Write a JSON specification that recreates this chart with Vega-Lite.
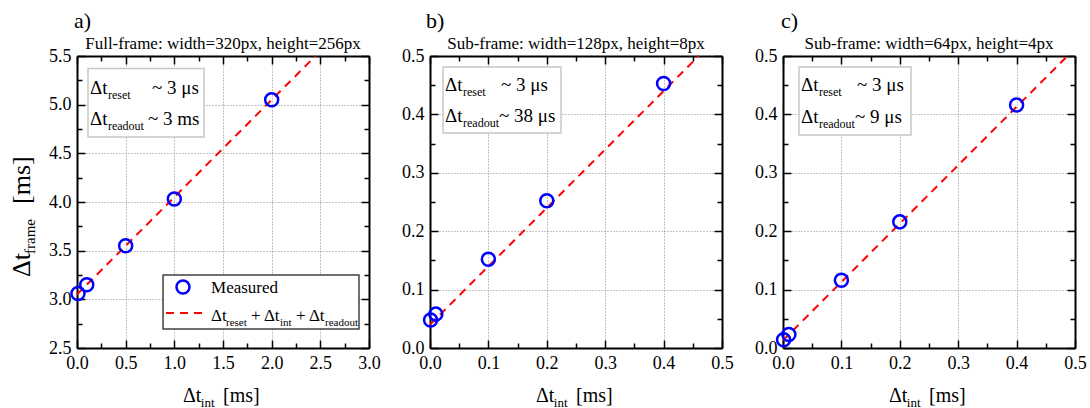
{
 "$schema": "https://vega.github.io/schema/vega-lite/v6.json",
 "autosize": {"type": "none"},
 "padding": {"left": 77, "top": 56, "right": 1013, "bottom": 352},
 "background": "#ffffff",
 "bounds": "flush",
 "spacing": 61,
 "config": {
  "view": {"stroke": null},
  "font": "Liberation Serif",
  "axis": {"domainColor": "#000000", "domainWidth": 2, "tickColor": "#000000", "tickWidth": 1.5, "labelFont": "Liberation Serif", "labelFontSize": 18, "labelColor": "#000000", "labelFlush": false, "labelOverlap": false, "gridColor": "#888888", "gridDash": [1, 2], "gridWidth": 1, "title": null}
 },
 "datasets": {
  "measured": [
   {"panel": "a", "t_int": 0.01, "t_frame": 3.06}, {"panel": "a", "t_int": 0.1, "t_frame": 3.15}, {"panel": "a", "t_int": 0.5, "t_frame": 3.55}, {"panel": "a", "t_int": 1.0, "t_frame": 4.03}, {"panel": "a", "t_int": 2.0, "t_frame": 5.05},
   {"panel": "b", "t_int": 0.001, "t_frame": 0.048}, {"panel": "b", "t_int": 0.01, "t_frame": 0.058}, {"panel": "b", "t_int": 0.1, "t_frame": 0.152}, {"panel": "b", "t_int": 0.2, "t_frame": 0.252}, {"panel": "b", "t_int": 0.4, "t_frame": 0.453},
   {"panel": "c", "t_int": 0.001, "t_frame": 0.014}, {"panel": "c", "t_int": 0.01, "t_frame": 0.023}, {"panel": "c", "t_int": 0.1, "t_frame": 0.116}, {"panel": "c", "t_int": 0.2, "t_frame": 0.216}, {"panel": "c", "t_int": 0.4, "t_frame": 0.416}
  ],
  "model": [
   {"panel": "a", "t_int": 0, "t_frame": 3.05}, {"panel": "a", "t_int": 2.45, "t_frame": 5.5},
   {"panel": "b", "t_int": 0, "t_frame": 0.04}, {"panel": "b", "t_int": 0.46, "t_frame": 0.5},
   {"panel": "c", "t_int": 0, "t_frame": 0.013}, {"panel": "c", "t_int": 0.487, "t_frame": 0.5}
  ],
  "boxes": [
   {"panel": "a", "kind": "info", "left": 0.113, "right": 1.305, "top": 5.372, "bottom": 4.668},
   {"panel": "a", "kind": "legend", "left": 0.884, "right": 2.897, "top": 3.25, "bottom": 2.695},
   {"panel": "b", "kind": "info", "left": 0.0223, "right": 0.2243, "top": 0.4812, "bottom": 0.3682},
   {"panel": "c", "kind": "info", "left": 0.0274, "right": 0.2192, "top": 0.4812, "bottom": 0.3647}
  ],
  "legendkey": [
   {"panel": "a", "item": "line", "x": 0.914, "y": 2.86},
   {"panel": "a", "item": "line", "x": 1.346, "y": 2.86},
   {"panel": "a", "item": "marker", "x": 1.089, "y": 3.127}
  ],
  "subtitles": [
   {"panel": "a", "x": 1.5, "y": 5.572, "text": "Full-frame: width=320px, height=256px"},
   {"panel": "b", "x": 0.25, "y": 0.512, "text": "Sub-frame: width=128px, height=8px"},
   {"panel": "c", "x": 0.25, "y": 0.512, "text": "Sub-frame: width=64px, height=4px"}
  ],
  "labels": [
   {"panel": "a", "part": "main", "role": "letter", "x": -0.031, "y": 5.788, "text": "a)"},
   {"panel": "a", "part": "main", "role": "box", "x": 0.134, "y": 5.11, "text": "Δt"},
   {"panel": "a", "part": "main", "role": "box", "x": 0.771, "y": 5.11, "text": "~ 3 μs"},
   {"panel": "a", "part": "main", "role": "box", "x": 0.134, "y": 4.791, "text": "Δt"},
   {"panel": "a", "part": "main", "role": "box", "x": 0.729, "y": 4.791, "text": "~ 3 ms"},
   {"panel": "a", "part": "sub", "role": "box", "x": 0.318, "y": 5.11, "text": "reset"},
   {"panel": "a", "part": "sub", "role": "box", "x": 0.318, "y": 4.791, "text": "readout"},
   {"panel": "a", "part": "main", "role": "leg", "x": 1.377, "y": 3.065, "text": "Measured"},
   {"panel": "a", "part": "main", "role": "leg", "x": 1.377, "y": 2.777, "text": "Δt"},
   {"panel": "a", "part": "sub", "role": "leg", "x": 1.531, "y": 2.777, "text": "reset"},
   {"panel": "a", "part": "main", "role": "leg", "x": 1.788, "y": 2.777, "text": "+ Δt"},
   {"panel": "a", "part": "sub", "role": "leg", "x": 2.086, "y": 2.777, "text": "int"},
   {"panel": "a", "part": "main", "role": "leg", "x": 2.25, "y": 2.777, "text": "+ Δt"},
   {"panel": "a", "part": "sub", "role": "leg", "x": 2.548, "y": 2.777, "text": "readout"},
   {"panel": "a", "part": "main", "role": "xt", "x": 1.089, "y": 1.945, "text": "Δt"},
   {"panel": "a", "part": "sub", "role": "xt", "x": 1.272, "y": 1.945, "text": "int"},
   {"panel": "a", "part": "main", "role": "xt", "x": 1.5, "y": 1.945, "text": "[ms]"},
   {"panel": "a", "part": "main", "role": "yt", "x": -0.483, "y": 3.229, "text": "Δt"},
   {"panel": "a", "part": "sub", "role": "yt", "x": -0.483, "y": 3.466, "text": "frame"},
   {"panel": "a", "part": "main", "role": "yt", "x": -0.483, "y": 3.98, "text": "[ms]"},
   {"panel": "b", "part": "main", "role": "letter", "x": -0.0068, "y": 0.548, "text": "b)"},
   {"panel": "b", "part": "main", "role": "box", "x": 0.0257, "y": 0.4401, "text": "Δt"},
   {"panel": "b", "part": "main", "role": "box", "x": 0.1216, "y": 0.4401, "text": "~ 3 μs"},
   {"panel": "b", "part": "main", "role": "box", "x": 0.0257, "y": 0.387, "text": "Δt"},
   {"panel": "b", "part": "main", "role": "box", "x": 0.1182, "y": 0.387, "text": "~ 38 μs"},
   {"panel": "b", "part": "sub", "role": "box", "x": 0.0565, "y": 0.4401, "text": "reset"},
   {"panel": "b", "part": "sub", "role": "box", "x": 0.0565, "y": 0.387, "text": "readout"},
   {"panel": "b", "part": "main", "role": "xt", "x": 0.1815, "y": -0.0925, "text": "Δt"},
   {"panel": "b", "part": "sub", "role": "xt", "x": 0.212, "y": -0.0925, "text": "int"},
   {"panel": "b", "part": "main", "role": "xt", "x": 0.25, "y": -0.0925, "text": "[ms]"},
   {"panel": "c", "part": "main", "role": "letter", "x": -0.0034, "y": 0.548, "text": "c)"},
   {"panel": "c", "part": "main", "role": "box", "x": 0.0308, "y": 0.4401, "text": "Δt"},
   {"panel": "c", "part": "main", "role": "box", "x": 0.1267, "y": 0.4401, "text": "~ 3 μs"},
   {"panel": "c", "part": "main", "role": "box", "x": 0.0308, "y": 0.3853, "text": "Δt"},
   {"panel": "c", "part": "main", "role": "box", "x": 0.1233, "y": 0.3853, "text": "~ 9 μs"},
   {"panel": "c", "part": "sub", "role": "box", "x": 0.0616, "y": 0.4401, "text": "reset"},
   {"panel": "c", "part": "sub", "role": "box", "x": 0.0616, "y": 0.3853, "text": "readout"},
   {"panel": "c", "part": "main", "role": "xt", "x": 0.1815, "y": -0.0925, "text": "Δt"},
   {"panel": "c", "part": "sub", "role": "xt", "x": 0.212, "y": -0.0925, "text": "int"},
   {"panel": "c", "part": "main", "role": "xt", "x": 0.25, "y": -0.0925, "text": "[ms]"}
  ]
 },
 "hconcat": [
  {
   "width": 292, "height": 292,
   "resolve": {"axis": {"x": "independent", "y": "independent"}},
   "layer": [
    {"data": {"name": "model"}, "transform": [{"filter": "datum.panel === 'a'"}],
     "mark": {"type": "line", "color": "#ff0000", "strokeWidth": 2, "strokeDash": [8, 6]},
     "encoding": {
      "x": {"field": "t_int", "type": "quantitative", "scale": {"domain": [0, 3], "nice": false, "zero": false},
            "axis": {"orient": "top", "values": [0, 0.25, 0.5, 0.75, 1, 1.25, 1.5, 1.75, 2, 2.25, 2.5, 2.75, 3], "labels": false, "grid": false,
                     "tickSize": {"condition": {"test": "abs(datum.value*2-round(datum.value*2))<0.001", "value": -8}, "value": -5}}},
      "y": {"field": "t_frame", "type": "quantitative", "scale": {"domain": [2.5, 5.5], "nice": false, "zero": false},
            "axis": {"orient": "right", "values": [2.5, 2.75, 3, 3.25, 3.5, 3.75, 4, 4.25, 4.5, 4.75, 5, 5.25, 5.5], "labels": false, "grid": false,
                     "tickSize": {"condition": {"test": "abs(datum.value*2-round(datum.value*2))<0.001", "value": -8}, "value": -5}}}
     }},
    {"data": {"name": "measured"}, "transform": [{"filter": "datum.panel === 'a'"}],
     "mark": {"type": "point", "shape": "circle", "filled": false, "stroke": "#0000ff", "strokeWidth": 2.5, "size": 170, "opacity": 1},
     "encoding": {
      "x": {"field": "t_int", "type": "quantitative", "scale": {"domain": [0, 3], "nice": false, "zero": false},
            "axis": {"orient": "bottom", "values": [0, 0.25, 0.5, 0.75, 1, 1.25, 1.5, 1.75, 2, 2.25, 2.5, 2.75, 3], "grid": true, "labelPadding": 14,
                     "labelExpr": "abs(datum.value*2-round(datum.value*2))<0.001 ? format(datum.value, '.1f') : ''",
                     "gridOpacity": {"condition": {"test": "abs(datum.value*2-round(datum.value*2))<0.001", "value": 1}, "value": 0},
                     "tickSize": {"condition": {"test": "abs(datum.value*2-round(datum.value*2))<0.001", "value": -8}, "value": -5}}},
      "y": {"field": "t_frame", "type": "quantitative", "scale": {"domain": [2.5, 5.5], "nice": false, "zero": false},
            "axis": {"orient": "left", "values": [2.5, 2.75, 3, 3.25, 3.5, 3.75, 4, 4.25, 4.5, 4.75, 5, 5.25, 5.5], "grid": true, "labelPadding": 14,
                     "labelExpr": "abs(datum.value*2-round(datum.value*2))<0.001 ? format(datum.value, '.1f') : ''",
                     "gridOpacity": {"condition": {"test": "abs(datum.value*2-round(datum.value*2))<0.001", "value": 1}, "value": 0},
                     "tickSize": {"condition": {"test": "abs(datum.value*2-round(datum.value*2))<0.001", "value": -8}, "value": -5}}}
     }},
    {"data": {"name": "boxes"}, "transform": [{"filter": "datum.panel === 'a' && datum.kind === 'info'"}],
     "mark": {"type": "rect", "fill": "#ffffff", "stroke": "#c8c8c8", "strokeWidth": 1.5},
     "encoding": {
      "x": {"field": "left", "type": "quantitative", "scale": {"domain": [0, 3], "nice": false, "zero": false}, "axis": null}, "x2": {"field": "right"},
      "y": {"field": "top", "type": "quantitative", "scale": {"domain": [2.5, 5.5], "nice": false, "zero": false}, "axis": null}, "y2": {"field": "bottom"}
     }},
    {"data": {"name": "boxes"}, "transform": [{"filter": "datum.panel === 'a' && datum.kind === 'legend'"}],
     "mark": {"type": "rect", "fill": "#ffffff", "stroke": "#404040", "strokeWidth": 1.5},
     "encoding": {
      "x": {"field": "left", "type": "quantitative", "scale": {"domain": [0, 3], "nice": false, "zero": false}, "axis": null}, "x2": {"field": "right"},
      "y": {"field": "top", "type": "quantitative", "scale": {"domain": [2.5, 5.5], "nice": false, "zero": false}, "axis": null}, "y2": {"field": "bottom"}
     }},
    {"data": {"name": "legendkey"}, "transform": [{"filter": "datum.panel === 'a' && datum.item === 'line'"}],
     "mark": {"type": "line", "color": "#ff0000", "strokeWidth": 2, "strokeDash": [8, 6]},
     "encoding": {
      "x": {"field": "x", "type": "quantitative", "scale": {"domain": [0, 3], "nice": false, "zero": false}, "axis": null},
      "y": {"field": "y", "type": "quantitative", "scale": {"domain": [2.5, 5.5], "nice": false, "zero": false}, "axis": null}
     }},
    {"data": {"name": "legendkey"}, "transform": [{"filter": "datum.panel === 'a' && datum.item === 'marker'"}],
     "mark": {"type": "point", "shape": "circle", "filled": false, "stroke": "#0000ff", "strokeWidth": 2.5, "size": 170, "opacity": 1},
     "encoding": {
      "x": {"field": "x", "type": "quantitative", "scale": {"domain": [0, 3], "nice": false, "zero": false}, "axis": null},
      "y": {"field": "y", "type": "quantitative", "scale": {"domain": [2.5, 5.5], "nice": false, "zero": false}, "axis": null}
     }},
    {"data": {"name": "labels"}, "transform": [{"filter": "datum.panel === 'a' && datum.part === 'main'"}],
     "mark": {"type": "text", "align": "left", "baseline": "alphabetic", "font": "Liberation Serif", "color": "#000000"},
     "encoding": {
      "x": {"field": "x", "type": "quantitative", "scale": {"domain": [0, 3], "nice": false, "zero": false}, "axis": null},
      "y": {"field": "y", "type": "quantitative", "scale": {"domain": [2.5, 5.5], "nice": false, "zero": false}, "axis": null},
      "text": {"field": "text"},
      "size": {"condition": [{"test": "datum.role === 'letter'", "value": 22}, {"test": "datum.role === 'box'", "value": 19}, {"test": "datum.role === 'xt'", "value": 20}, {"test": "datum.role === 'yt'", "value": 26}], "value": 17},
      "angle": {"condition": {"test": "datum.role === 'yt'", "value": 270}, "value": 0}
     }},
    {"data": {"name": "labels"}, "transform": [{"filter": "datum.panel === 'a' && datum.part === 'sub'"}],
     "mark": {"type": "text", "align": "left", "baseline": "alphabetic", "font": "Liberation Serif", "color": "#000000", "dy": 5},
     "encoding": {
      "x": {"field": "x", "type": "quantitative", "scale": {"domain": [0, 3], "nice": false, "zero": false}, "axis": null},
      "y": {"field": "y", "type": "quantitative", "scale": {"domain": [2.5, 5.5], "nice": false, "zero": false}, "axis": null},
      "text": {"field": "text"},
      "size": {"condition": [{"test": "datum.role === 'box'", "value": 12}, {"test": "datum.role === 'xt'", "value": 13}, {"test": "datum.role === 'yt'", "value": 15}], "value": 11},
      "angle": {"condition": {"test": "datum.role === 'yt'", "value": 270}, "value": 0}
     }},
    {"data": {"name": "subtitles"}, "transform": [{"filter": "datum.panel === 'a'"}],
     "mark": {"type": "text", "align": "center", "baseline": "alphabetic", "font": "Liberation Serif", "color": "#000000", "fontSize": 17},
     "encoding": {
      "x": {"field": "x", "type": "quantitative", "scale": {"domain": [0, 3], "nice": false, "zero": false}, "axis": null},
      "y": {"field": "y", "type": "quantitative", "scale": {"domain": [2.5, 5.5], "nice": false, "zero": false}, "axis": null},
      "text": {"field": "text"}
     }}
   ]
  },
  {
   "width": 292, "height": 292,
   "resolve": {"axis": {"x": "independent", "y": "independent"}},
   "layer": [
    {"data": {"name": "model"}, "transform": [{"filter": "datum.panel === 'b'"}],
     "mark": {"type": "line", "color": "#ff0000", "strokeWidth": 2, "strokeDash": [8, 6]},
     "encoding": {
      "x": {"field": "t_int", "type": "quantitative", "scale": {"domain": [0, 0.5], "nice": false, "zero": false},
            "axis": {"orient": "top", "values": [0, 0.05, 0.1, 0.15, 0.2, 0.25, 0.3, 0.35, 0.4, 0.45, 0.5], "labels": false, "grid": false,
                     "tickSize": {"condition": {"test": "abs(datum.value*10-round(datum.value*10))<0.001", "value": -8}, "value": -5}}},
      "y": {"field": "t_frame", "type": "quantitative", "scale": {"domain": [0, 0.5], "nice": false, "zero": false},
            "axis": {"orient": "right", "values": [0, 0.05, 0.1, 0.15, 0.2, 0.25, 0.3, 0.35, 0.4, 0.45, 0.5], "labels": false, "grid": false,
                     "tickSize": {"condition": {"test": "abs(datum.value*10-round(datum.value*10))<0.001", "value": -8}, "value": -5}}}
     }},
    {"data": {"name": "measured"}, "transform": [{"filter": "datum.panel === 'b'"}],
     "mark": {"type": "point", "shape": "circle", "filled": false, "stroke": "#0000ff", "strokeWidth": 2.5, "size": 170, "opacity": 1},
     "encoding": {
      "x": {"field": "t_int", "type": "quantitative", "scale": {"domain": [0, 0.5], "nice": false, "zero": false},
            "axis": {"orient": "bottom", "values": [0, 0.05, 0.1, 0.15, 0.2, 0.25, 0.3, 0.35, 0.4, 0.45, 0.5], "grid": true, "labelPadding": 14,
                     "labelExpr": "abs(datum.value*10-round(datum.value*10))<0.001 ? format(datum.value, '.1f') : ''",
                     "gridOpacity": {"condition": {"test": "abs(datum.value*10-round(datum.value*10))<0.001", "value": 1}, "value": 0},
                     "tickSize": {"condition": {"test": "abs(datum.value*10-round(datum.value*10))<0.001", "value": -8}, "value": -5}}},
      "y": {"field": "t_frame", "type": "quantitative", "scale": {"domain": [0, 0.5], "nice": false, "zero": false},
            "axis": {"orient": "left", "values": [0, 0.05, 0.1, 0.15, 0.2, 0.25, 0.3, 0.35, 0.4, 0.45, 0.5], "grid": true, "labelPadding": 14,
                     "labelExpr": "abs(datum.value*10-round(datum.value*10))<0.001 ? format(datum.value, '.1f') : ''",
                     "gridOpacity": {"condition": {"test": "abs(datum.value*10-round(datum.value*10))<0.001", "value": 1}, "value": 0},
                     "tickSize": {"condition": {"test": "abs(datum.value*10-round(datum.value*10))<0.001", "value": -8}, "value": -5}}}
     }},
    {"data": {"name": "boxes"}, "transform": [{"filter": "datum.panel === 'b' && datum.kind === 'info'"}],
     "mark": {"type": "rect", "fill": "#ffffff", "stroke": "#c8c8c8", "strokeWidth": 1.5},
     "encoding": {
      "x": {"field": "left", "type": "quantitative", "scale": {"domain": [0, 0.5], "nice": false, "zero": false}, "axis": null}, "x2": {"field": "right"},
      "y": {"field": "top", "type": "quantitative", "scale": {"domain": [0, 0.5], "nice": false, "zero": false}, "axis": null}, "y2": {"field": "bottom"}
     }},
    {"data": {"name": "labels"}, "transform": [{"filter": "datum.panel === 'b' && datum.part === 'main'"}],
     "mark": {"type": "text", "align": "left", "baseline": "alphabetic", "font": "Liberation Serif", "color": "#000000"},
     "encoding": {
      "x": {"field": "x", "type": "quantitative", "scale": {"domain": [0, 0.5], "nice": false, "zero": false}, "axis": null},
      "y": {"field": "y", "type": "quantitative", "scale": {"domain": [0, 0.5], "nice": false, "zero": false}, "axis": null},
      "text": {"field": "text"},
      "size": {"condition": [{"test": "datum.role === 'letter'", "value": 22}, {"test": "datum.role === 'box'", "value": 19}, {"test": "datum.role === 'xt'", "value": 20}], "value": 17}
     }},
    {"data": {"name": "labels"}, "transform": [{"filter": "datum.panel === 'b' && datum.part === 'sub'"}],
     "mark": {"type": "text", "align": "left", "baseline": "alphabetic", "font": "Liberation Serif", "color": "#000000", "dy": 5},
     "encoding": {
      "x": {"field": "x", "type": "quantitative", "scale": {"domain": [0, 0.5], "nice": false, "zero": false}, "axis": null},
      "y": {"field": "y", "type": "quantitative", "scale": {"domain": [0, 0.5], "nice": false, "zero": false}, "axis": null},
      "text": {"field": "text"},
      "size": {"condition": [{"test": "datum.role === 'box'", "value": 12}, {"test": "datum.role === 'xt'", "value": 13}], "value": 11}
     }},
    {"data": {"name": "subtitles"}, "transform": [{"filter": "datum.panel === 'b'"}],
     "mark": {"type": "text", "align": "center", "baseline": "alphabetic", "font": "Liberation Serif", "color": "#000000", "fontSize": 17},
     "encoding": {
      "x": {"field": "x", "type": "quantitative", "scale": {"domain": [0, 0.5], "nice": false, "zero": false}, "axis": null},
      "y": {"field": "y", "type": "quantitative", "scale": {"domain": [0, 0.5], "nice": false, "zero": false}, "axis": null},
      "text": {"field": "text"}
     }}
   ]
  },
  {
   "width": 292, "height": 292,
   "resolve": {"axis": {"x": "independent", "y": "independent"}},
   "layer": [
    {"data": {"name": "model"}, "transform": [{"filter": "datum.panel === 'c'"}],
     "mark": {"type": "line", "color": "#ff0000", "strokeWidth": 2, "strokeDash": [8, 6]},
     "encoding": {
      "x": {"field": "t_int", "type": "quantitative", "scale": {"domain": [0, 0.5], "nice": false, "zero": false},
            "axis": {"orient": "top", "values": [0, 0.05, 0.1, 0.15, 0.2, 0.25, 0.3, 0.35, 0.4, 0.45, 0.5], "labels": false, "grid": false,
                     "tickSize": {"condition": {"test": "abs(datum.value*10-round(datum.value*10))<0.001", "value": -8}, "value": -5}}},
      "y": {"field": "t_frame", "type": "quantitative", "scale": {"domain": [0, 0.5], "nice": false, "zero": false},
            "axis": {"orient": "right", "values": [0, 0.05, 0.1, 0.15, 0.2, 0.25, 0.3, 0.35, 0.4, 0.45, 0.5], "labels": false, "grid": false,
                     "tickSize": {"condition": {"test": "abs(datum.value*10-round(datum.value*10))<0.001", "value": -8}, "value": -5}}}
     }},
    {"data": {"name": "measured"}, "transform": [{"filter": "datum.panel === 'c'"}],
     "mark": {"type": "point", "shape": "circle", "filled": false, "stroke": "#0000ff", "strokeWidth": 2.5, "size": 170, "opacity": 1},
     "encoding": {
      "x": {"field": "t_int", "type": "quantitative", "scale": {"domain": [0, 0.5], "nice": false, "zero": false},
            "axis": {"orient": "bottom", "values": [0, 0.05, 0.1, 0.15, 0.2, 0.25, 0.3, 0.35, 0.4, 0.45, 0.5], "grid": true, "labelPadding": 14,
                     "labelExpr": "abs(datum.value*10-round(datum.value*10))<0.001 ? format(datum.value, '.1f') : ''",
                     "gridOpacity": {"condition": {"test": "abs(datum.value*10-round(datum.value*10))<0.001", "value": 1}, "value": 0},
                     "tickSize": {"condition": {"test": "abs(datum.value*10-round(datum.value*10))<0.001", "value": -8}, "value": -5}}},
      "y": {"field": "t_frame", "type": "quantitative", "scale": {"domain": [0, 0.5], "nice": false, "zero": false},
            "axis": {"orient": "left", "values": [0, 0.05, 0.1, 0.15, 0.2, 0.25, 0.3, 0.35, 0.4, 0.45, 0.5], "grid": true, "labelPadding": 14,
                     "labelExpr": "abs(datum.value*10-round(datum.value*10))<0.001 ? format(datum.value, '.1f') : ''",
                     "gridOpacity": {"condition": {"test": "abs(datum.value*10-round(datum.value*10))<0.001", "value": 1}, "value": 0},
                     "tickSize": {"condition": {"test": "abs(datum.value*10-round(datum.value*10))<0.001", "value": -8}, "value": -5}}}
     }},
    {"data": {"name": "boxes"}, "transform": [{"filter": "datum.panel === 'c' && datum.kind === 'info'"}],
     "mark": {"type": "rect", "fill": "#ffffff", "stroke": "#c8c8c8", "strokeWidth": 1.5},
     "encoding": {
      "x": {"field": "left", "type": "quantitative", "scale": {"domain": [0, 0.5], "nice": false, "zero": false}, "axis": null}, "x2": {"field": "right"},
      "y": {"field": "top", "type": "quantitative", "scale": {"domain": [0, 0.5], "nice": false, "zero": false}, "axis": null}, "y2": {"field": "bottom"}
     }},
    {"data": {"name": "labels"}, "transform": [{"filter": "datum.panel === 'c' && datum.part === 'main'"}],
     "mark": {"type": "text", "align": "left", "baseline": "alphabetic", "font": "Liberation Serif", "color": "#000000"},
     "encoding": {
      "x": {"field": "x", "type": "quantitative", "scale": {"domain": [0, 0.5], "nice": false, "zero": false}, "axis": null},
      "y": {"field": "y", "type": "quantitative", "scale": {"domain": [0, 0.5], "nice": false, "zero": false}, "axis": null},
      "text": {"field": "text"},
      "size": {"condition": [{"test": "datum.role === 'letter'", "value": 22}, {"test": "datum.role === 'box'", "value": 19}, {"test": "datum.role === 'xt'", "value": 20}], "value": 17}
     }},
    {"data": {"name": "labels"}, "transform": [{"filter": "datum.panel === 'c' && datum.part === 'sub'"}],
     "mark": {"type": "text", "align": "left", "baseline": "alphabetic", "font": "Liberation Serif", "color": "#000000", "dy": 5},
     "encoding": {
      "x": {"field": "x", "type": "quantitative", "scale": {"domain": [0, 0.5], "nice": false, "zero": false}, "axis": null},
      "y": {"field": "y", "type": "quantitative", "scale": {"domain": [0, 0.5], "nice": false, "zero": false}, "axis": null},
      "text": {"field": "text"},
      "size": {"condition": [{"test": "datum.role === 'box'", "value": 12}, {"test": "datum.role === 'xt'", "value": 13}], "value": 11}
     }},
    {"data": {"name": "subtitles"}, "transform": [{"filter": "datum.panel === 'c'"}],
     "mark": {"type": "text", "align": "center", "baseline": "alphabetic", "font": "Liberation Serif", "color": "#000000", "fontSize": 17},
     "encoding": {
      "x": {"field": "x", "type": "quantitative", "scale": {"domain": [0, 0.5], "nice": false, "zero": false}, "axis": null},
      "y": {"field": "y", "type": "quantitative", "scale": {"domain": [0, 0.5], "nice": false, "zero": false}, "axis": null},
      "text": {"field": "text"}
     }}
   ]
  }
 ]
}
